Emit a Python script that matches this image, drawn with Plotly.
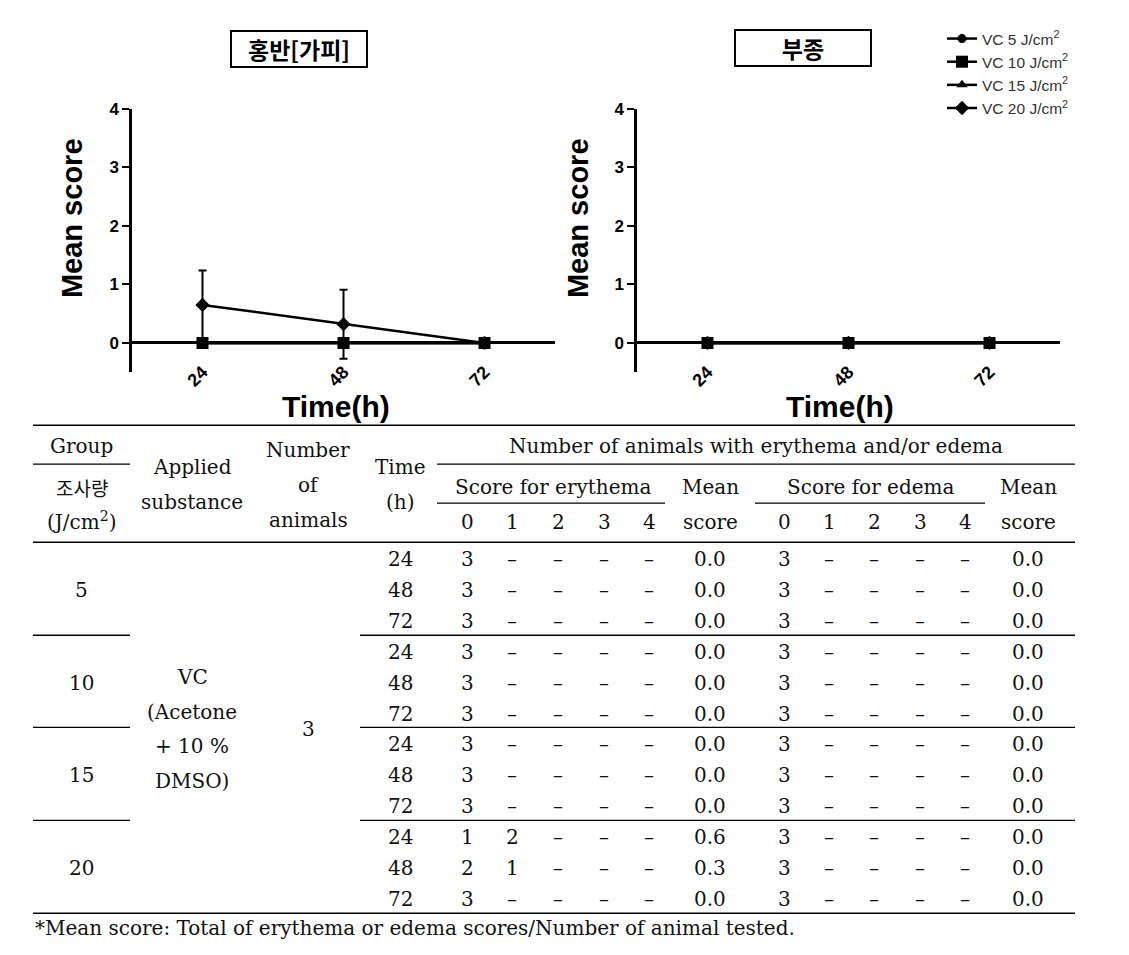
import plotly.graph_objects as go

# page body has an 8px margin; figure sized so that page == window
OFF = 8
W, H = 1129 - 2 * OFF, 955 - 2 * OFF


def px(x):
    return (x - OFF) / W


def py(y):
    y = (y - 9.1) / 0.99 + 0.0  # small vertical calibration
    return 1 - (y - OFF) / H


# ---------------- chart data ----------------
times = [24, 48, 72]
time_ticks = ["24", "48", "72"]
dose_labels = ["VC 5 J/cm<sup>2</sup>", "VC 10 J/cm<sup>2</sup>",
               "VC 15 J/cm<sup>2</sup>", "VC 20 J/cm<sup>2</sup>"]
erythema_means = [[0.0, 0.0, 0.0], [0.0, 0.0, 0.0], [0.0, 0.0, 0.0], [0.65, 0.32, 0.0]]
erythema_sd = [[0.0, 0.0, 0.0], [0.0, 0.0, 0.0], [0.0, 0.0, 0.0], [0.59, 0.59, 0.0]]
edema_means = [[0.0, 0.0, 0.0], [0.0, 0.0, 0.0], [0.0, 0.0, 0.0], [0.0, 0.0, 0.0]]
edema_sd = [[0.0, 0.0, 0.0], [0.0, 0.0, 0.0], [0.0, 0.0, 0.0], [0.0, 0.0, 0.0]]
marker_symbols = ["circle", "square", "triangle-up", "diamond"]
marker_sizes = [9, 12, 10, 11]
draw_order = [0, 2, 3, 1]  # square drawn on top

# ---------------- table data ----------------
groups = ["5", "10", "15", "20"]
table_times = ["24", "48", "72"]
score_cols = ["0", "1", "2", "3", "4"]
ery_counts = [
    [[3, 0, 0, 0, 0], [3, 0, 0, 0, 0], [3, 0, 0, 0, 0]],
    [[3, 0, 0, 0, 0], [3, 0, 0, 0, 0], [3, 0, 0, 0, 0]],
    [[3, 0, 0, 0, 0], [3, 0, 0, 0, 0], [3, 0, 0, 0, 0]],
    [[1, 2, 0, 0, 0], [2, 1, 0, 0, 0], [3, 0, 0, 0, 0]],
]
ery_mean_text = [["0.0", "0.0", "0.0"], ["0.0", "0.0", "0.0"],
                 ["0.0", "0.0", "0.0"], ["0.6", "0.3", "0.0"]]
edema_counts = [
    [[3, 0, 0, 0, 0], [3, 0, 0, 0, 0], [3, 0, 0, 0, 0]],
    [[3, 0, 0, 0, 0], [3, 0, 0, 0, 0], [3, 0, 0, 0, 0]],
    [[3, 0, 0, 0, 0], [3, 0, 0, 0, 0], [3, 0, 0, 0, 0]],
    [[3, 0, 0, 0, 0], [3, 0, 0, 0, 0], [3, 0, 0, 0, 0]],
]
edema_mean_text = [["0.0", "0.0", "0.0"], ["0.0", "0.0", "0.0"],
                   ["0.0", "0.0", "0.0"], ["0.0", "0.0", "0.0"]]
substance_lines = ["VC", "(Acetone", "+ 10 %", "DMSO)"]
n_animals = "3"
footnote = "*Mean score: Total of erythema or edema scores/Number of animal tested."

fig = go.Figure()

# ---------------- charts ----------------
for i in draw_order:
    fig.add_trace(go.Scatter(
        x=times, y=erythema_means[i], name=dose_labels[i], mode="lines+markers",
        line=dict(color="black", width=2.5),
        marker=dict(symbol=marker_symbols[i], size=marker_sizes[i], color="black"),
        error_y=dict(type="data", array=erythema_sd[i], visible=any(erythema_sd[i]),
                     color="black", thickness=2, width=4),
        xaxis="x", yaxis="y", legendgroup=f"g{i}", legendrank=i + 1, showlegend=True))
for i in draw_order:
    fig.add_trace(go.Scatter(
        x=times, y=edema_means[i], name=dose_labels[i], mode="lines+markers",
        line=dict(color="black", width=2.5),
        marker=dict(symbol=marker_symbols[i], size=marker_sizes[i], color="black"),
        error_y=dict(type="data", array=edema_sd[i], visible=any(edema_sd[i]),
                     color="black", thickness=2, width=4),
        xaxis="x2", yaxis="y2", legendgroup=f"g{i}", showlegend=False))

ytickfont = dict(family="Liberation Sans, Arial", size=17, color="black", weight="bold")
xtickfont = dict(family="Liberation Sans, Arial", size=18, color="black", weight="bold")
ydom = [py(372), py(109)]
xcommon = dict(range=[12, 84], tickvals=times, ticktext=time_ticks, tickangle=-45,
               showline=False, showgrid=False, zeroline=False, ticks="",
               tickfont=xtickfont, anchor="free", position=py(357))
ycommon = dict(range=[-0.5, 4.0], tickvals=[0, 1, 2, 3, 4], ticks="outside", ticklen=7,
               tickwidth=2, tickcolor="black", showline=True, linewidth=2.5,
               linecolor="black", zeroline=True, zerolinecolor="black",
               zerolinewidth=2.5, showgrid=False, tickfont=ytickfont)

fig.update_layout(
    width=W, height=H, margin=dict(l=0, r=0, t=0, b=0),
    paper_bgcolor="white", plot_bgcolor="white",
    xaxis=dict(domain=[px(132), px(555)], **xcommon),
    yaxis=dict(domain=ydom, anchor="x", **ycommon),
    xaxis2=dict(domain=[px(637), px(1060)], **xcommon),
    yaxis2=dict(domain=ydom, anchor="x2", **ycommon),
    legend=dict(x=px(942), y=py(22), xanchor="left", yanchor="top",
                font=dict(family="Liberation Sans, Arial", size=15.5, color="#333"),
                itemwidth=30, tracegroupgap=0, bgcolor="rgba(0,0,0,0)"),
    showlegend=True,
)

ann = []
axis_title_font = dict(family="Liberation Sans, Arial", size=29, color="black", weight="bold")
for cx in (72, 578):
    ann.append(dict(x=px(cx), y=py(218), text="Mean score", textangle=-90,
                    font=axis_title_font, showarrow=False, xref="paper", yref="paper",
                    xanchor="center", yanchor="middle"))
axis_title_font2 = dict(family="Liberation Sans, Arial", size=30, color="black", weight="bold")
for cx in (336, 840):
    ann.append(dict(x=px(cx), y=py(406), text="Time(h)", font=axis_title_font2,
                    showarrow=False, xref="paper", yref="paper",
                    xanchor="center", yanchor="middle"))
title_font = dict(family="Noto Sans CJK KR", size=23, color="black", weight="bold")
for cx, cy, t in ((299, 49, "홍반[가피]"), (803, 48.5, "부종")):
    ann.append(dict(x=px(cx), y=py(cy), text=t, font=title_font, showarrow=False,
                    xref="paper", yref="paper", xanchor="center", yanchor="middle",
                    bordercolor="black", borderwidth=2, borderpad=0,
                    width=134, height=34, bgcolor="white"))

# ---------------- table ----------------
tfont = dict(family="DejaVu Serif", size=20, color="#111")
kfont = dict(family="Noto Sans CJK KR", size=19, color="#111")


def cell(x, y, text, font=tfont, anchor="center"):
    ann.append(dict(x=px(x), y=py(y), text=text, font=font, showarrow=False,
                    xref="paper", yref="paper", xanchor=anchor, yanchor="middle"))


ery_x = [467, 512, 558, 604, 649]
ede_x = [784, 829, 874, 920, 965]

cell(82, 446, "Group")
cell(82, 487, "조사량", kfont)
cell(82, 521, "(J/cm<sup>2</sup>)")
cell(192, 467, "Applied")
cell(192, 502, "substance")
cell(308, 450, "Number")
cell(308, 485, "of")
cell(308, 520, "animals")
cell(400, 467, "Time")
cell(400, 502, "(h)")
cell(756, 446, "Number of animals with erythema and/or edema")
cell(553, 487, "Score for erythema")
cell(710, 487, "Mean")
cell(870, 487, "Score for edema")
cell(1028, 487, "Mean")
for j, s in enumerate(score_cols):
    cell(ery_x[j], 522, s)
    cell(ede_x[j], 522, s)
cell(710, 522, "score")
cell(1028, 522, "score")

row_y0, row_dy = 559, 30.85
for g in range(4):
    for t in range(3):
        ry = row_y0 + (g * 3 + t) * row_dy
        cell(400, ry, table_times[t])
        for j in range(5):
            v = ery_counts[g][t][j]
            cell(ery_x[j], ry, str(v) if v else "–")
            v = edema_counts[g][t][j]
            cell(ede_x[j], ry, str(v) if v else "–")
        cell(710, ry, ery_mean_text[g][t])
        cell(1028, ry, edema_mean_text[g][t])
    cell(82, row_y0 + (g * 3 + 1) * row_dy, groups[g])

for k, s in enumerate(substance_lines):
    cell(192, 677 + k * 34.5, s)
cell(308, 729, n_animals)
cell(33, 928, footnote, anchor="left")

shapes = []


def hline(x0, x1, y, w=1.3):
    shapes.append(dict(type="line", xref="paper", yref="paper", x0=px(x0), x1=px(x1),
                       y0=py(y), y1=py(y), line=dict(color="black", width=w)))


hline(33, 1075, 425, 1.5)
hline(33, 130, 464)
hline(437, 1075, 464)
hline(437, 665, 503)
hline(755, 985, 503)
hline(33, 1075, 542, 1.5)
for yy in (635, 727, 820):
    hline(33, 130, yy)
    hline(360, 1075, yy)
hline(33, 1075, 913, 1.5)

fig.update_layout(annotations=ann, shapes=shapes)
fig.write_html("out.html")
